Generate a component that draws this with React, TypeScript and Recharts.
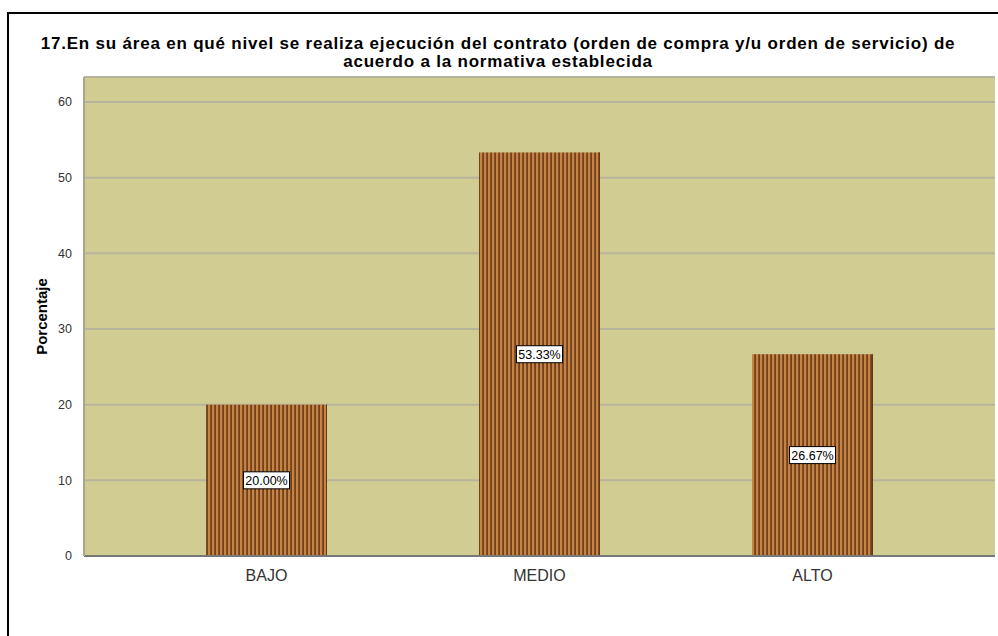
import { BarChart, Bar, XAxis, YAxis, CartesianGrid, LabelList } from 'recharts'

const niveles = ['BAJO', 'MEDIO', 'ALTO']
const porcentajes = [20.0, 53.33, 26.67]
const yTicks = [0, 10, 20, 30, 40, 50, 60]

const tituloLineas = [
  '17.En su área en qué nivel se realiza ejecución del contrato (orden de compra y/u orden de servicio) de',
  'acuerdo a la normativa establecida',
]

const data = niveles.map((nivel, i) => ({ nivel, porcentaje: porcentajes[i] }))

const FONT = '"Liberation Sans", Arial, sans-serif'

// white box with the percentage, placed at the middle of each bar
const ValueBox = (props: any) => {
  const { x, y, width, height, value } = props
  const cx = x + width / 2
  const cy = y + height / 2
  const w = 46
  const h = 17
  return (
    <g>
      <rect x={cx - w / 2} y={cy - h / 2} width={w} height={h} fill="#fff" stroke="#000" strokeWidth={1} />
      <text x={cx} y={cy + 4.5} textAnchor="middle" fontSize={12.5} fontFamily={FONT} fill="#000">
        {`${Number(value).toFixed(2)}%`}
      </text>
    </g>
  )
}

const StripedBar = (props: any) => {
  const { x, y, width, height } = props
  return (
    <g>
      <rect x={x} y={y} width={width} height={height} fill="url(#rayas)" />
      <line x1={x + width - 0.5} y1={y} x2={x + width - 0.5} y2={y + height} stroke="#5e3a1c" strokeWidth={1} />
    </g>
  )
}

export default function App() {
  return (
    <div style={{ position: 'absolute', left: 0, top: 0, width: 998, height: 636, background: '#fff', overflow: 'hidden', fontFamily: FONT }}>
      <div style={{ position: 'absolute', left: 7, top: 12, width: 1100, height: 800, border: '2px solid #000' }} />
      {tituloLineas.map((linea, i) => (
        <div
          key={i}
          style={{ position: 'absolute', left: 0, top: 35 + i * 18, width: 996, height: 18, textAlign: 'center', fontWeight: 'bold', fontSize: 17, letterSpacing: 0.8, lineHeight: '18px', color: '#000', whiteSpace: 'nowrap' }}
        >
          {linea}
        </div>
      ))}
      <div style={{ position: 'absolute', left: 0, top: 0 }}>
        <BarChart width={998} height={636} data={data} margin={{ top: 77, right: 3, bottom: 50, left: 44 }}>
          <defs>
            <pattern id="rayas" x={0} y={0} width={4} height={4} patternUnits="userSpaceOnUse">
              <rect x={0} y={0} width={4} height={4} fill="#c98340" />
              <rect x={2.2} y={0} width={1.8} height={4} fill="#6e4220" />
            </pattern>
          </defs>
          <CartesianGrid vertical={false} fill="#d1cc92" stroke="#b7b49c" strokeWidth={2} />
          <XAxis
            dataKey="nivel"
            padding={{ left: 46, right: 46 }}
            height={30}
            tickLine={false}
            axisLine={{ stroke: '#777', strokeWidth: 2 }}
            tick={{ fontSize: 16, fill: '#333', fontFamily: FONT }}
            tickMargin={8}
          />
          <YAxis
            width={40}
            domain={[0, 63.3]}
            ticks={yTicks}
            tickLine={false}
            axisLine={{ stroke: '#a9a68c', strokeWidth: 2 }}
            tick={{ fontSize: 12.5, fill: '#333', fontFamily: FONT }}
            tickMargin={6}
            label={{ value: 'Porcentaje', angle: -90, position: 'insideLeft', offset: -2, style: { fontSize: 15, fontWeight: 'bold', fill: '#000', fontFamily: FONT, textAnchor: 'middle' } }}
          />
          <Bar dataKey="porcentaje" barSize={121} shape={StripedBar} isAnimationActive={false}>
            <LabelList dataKey="porcentaje" content={ValueBox} />
          </Bar>
        </BarChart>
      </div>
    </div>
  )
}
